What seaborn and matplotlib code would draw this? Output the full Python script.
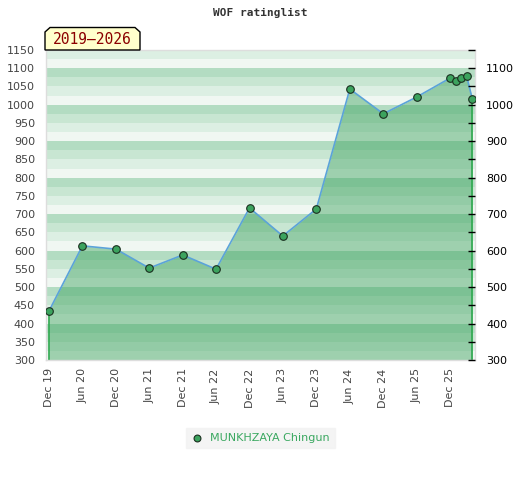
import matplotlib
matplotlib.use("Agg")
import matplotlib.pyplot as plt
import matplotlib.dates as mdates
from matplotlib.patches import Polygon
from matplotlib.ticker import MultipleLocator, FixedLocator
import pandas as pd
import seaborn as sns

PLAYER = "MUNKHZAYA Chingun"
PERIOD = "2019\u20132026"

dates = [
    "2019-12-01", "2020-06-01", "2020-12-01", "2021-06-01", "2021-12-01",
    "2022-06-01", "2022-12-01", "2023-06-01", "2023-12-01", "2024-06-01",
    "2024-12-01", "2025-06-01", "2025-12-01", "2026-01-01", "2026-02-01",
    "2026-03-01", "2026-04-01",
]
ratings = [434, 613, 604, 552, 588, 549, 717, 640, 714, 1043,
           975, 1021, 1073, 1065, 1073, 1079, 1016]

tick_dates = [
    "2019-12-01", "2020-06-01", "2020-12-01", "2021-06-01", "2021-12-01",
    "2022-06-01", "2022-12-01", "2023-06-01", "2023-12-01", "2024-06-01",
    "2024-12-01", "2025-06-01", "2025-12-01",
]
tick_labels = ["Dec 19", "Jun 20", "Dec 20", "Jun 21", "Dec 21", "Jun 22",
               "Dec 22", "Jun 23", "Dec 23", "Jun 24", "Dec 24", "Jun 25", "Dec 25"]

Y_MIN, Y_MAX = 300, 1150
STRIPES = ["#f0f7f2", "#dcefe3", "#c8e6d2", "#b3dcc2"]

df = pd.DataFrame({"date": pd.to_datetime(dates), "rating": ratings, "player": PLAYER})

sns.set_theme(style="white")
plt.rcParams["font.family"] = ["DejaVu Sans"]

fig = plt.figure(figsize=(5.2, 4.8), dpi=100)
ax = fig.add_axes([46 / 520, 1 - 360 / 480, 429 / 520, 310 / 480])

# striped background, 25 rating points per band
for low in range(Y_MIN, Y_MAX, 25):
    ax.axhspan(low, low + 25, color=STRIPES[(low // 25) % 4], lw=0, zorder=0)

ax.fill_between(df["date"], df["rating"], Y_MIN, color="#3ba15c", alpha=0.45,
                lw=0, zorder=1)
ax.vlines([df["date"].iloc[0], df["date"].iloc[-1]], Y_MIN,
          [df["rating"].iloc[0], df["rating"].iloc[-1]], color="#2fa84f", lw=1.2, zorder=2)

sns.lineplot(data=df, x="date", y="rating", ax=ax, color="#5ba3d9", lw=1.2,
             zorder=3, legend=False)
sns.scatterplot(data=df, x="date", y="rating", ax=ax, color="#3ca35e",
                edgecolor="#1a2e1f", linewidth=0.8, s=30, zorder=4,
                label=PLAYER, legend=True)

ax.set_xlim(pd.Timestamp("2019-11-15"), pd.Timestamp("2026-04-16"))
ax.set_ylim(Y_MIN, Y_MAX)
ax.set_xlabel("")
ax.set_ylabel("")
ax.yaxis.set_major_locator(MultipleLocator(50))
ax.tick_params(axis="y", length=0, labelsize=8, labelcolor="#444444", pad=8)
ax.xaxis.set_major_locator(FixedLocator(mdates.date2num(pd.to_datetime(tick_dates))))
ax.set_xticklabels(tick_labels, rotation=90)
ax.tick_params(axis="x", length=0, labelsize=8, labelcolor="#444444", pad=6)
for spine in ax.spines.values():
    spine.set_color("#dddddd")
    spine.set_linewidth(1)

ax2 = ax.twinx()
ax2.set_ylim(Y_MIN, Y_MAX)
ax2.yaxis.set_major_locator(FixedLocator(list(range(300, 1101, 100))))
ax2.yaxis.set_minor_locator(FixedLocator(list(range(350, 1151, 100))))
ax2.tick_params(axis="y", which="both", direction="in", length=5, width=1,
                color="black", labelsize=8, labelcolor="black", pad=8)
ax2.tick_params(axis="y", which="minor", labelright=False)
for spine in ax2.spines.values():
    spine.set_visible(False)

leg = ax.legend(loc="upper center", bbox_to_anchor=(0.5, -0.205), frameon=True,
                fontsize=8, handlelength=1.0, handletextpad=0.7, borderpad=0.35,
                markerscale=0.9)
leg.get_frame().set_facecolor("#f2f2f2")
leg.get_frame().set_edgecolor("#f2f2f2")
leg.get_frame().set_boxstyle("square", pad=0.1)
for txt in leg.get_texts():
    txt.set_color("#3aa860")

fig.text(0.5, 1 - 13 / 480, "WOF ratinglist", ha="center", va="center",
         fontsize=8, fontweight="bold", family="DejaVu Sans Mono", color="#333333")

# period label box with cut top corners
W, H = 520, 480
box = [(45, 50), (45, 32), (50, 27.5), (135, 27.5), (140, 32), (140, 50)]
fig.patches.append(Polygon([(x / W, 1 - y / H) for x, y in box], closed=True,
                           transform=fig.transFigure, facecolor="#ffffcc",
                           edgecolor="black", lw=1, zorder=5))
fig.text(92.5 / W, 1 - 40 / H, PERIOD, ha="center", va="center", fontsize=10.5,
         family="DejaVu Sans Mono", color="#8b0000", zorder=6)

fig.savefig("out.png", dpi=100)
